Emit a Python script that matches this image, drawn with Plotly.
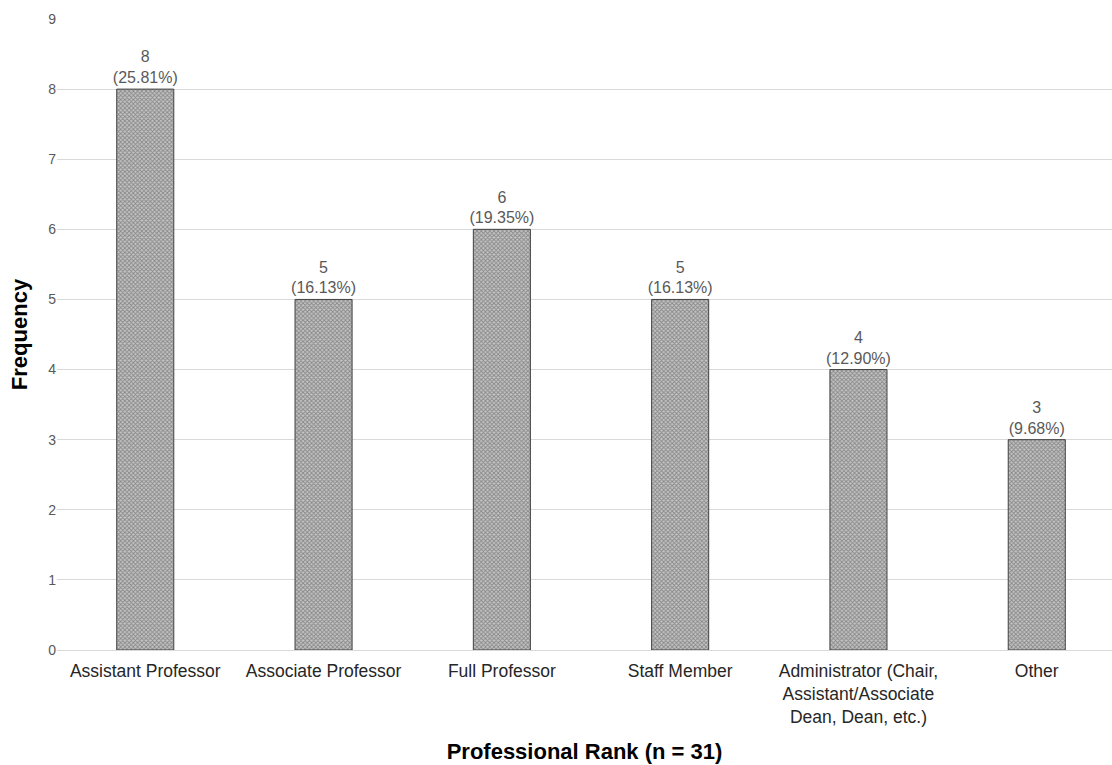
import plotly.graph_objects as go

categories = [
    "Assistant Professor",
    "Associate Professor",
    "Full Professor",
    "Staff Member",
    "Administrator (Chair,<br>Assistant/Associate<br>Dean, Dean, etc.)",
    "Other",
]
counts = [8, 5, 6, 5, 4, 3]
percents = ["25.81%", "16.13%", "19.35%", "16.13%", "12.90%", "9.68%"]
y_ticks = [0, 1, 2, 3, 4, 5, 6, 7, 8, 9]

labels = [f"{c}<br>({p})" for c, p in zip(counts, percents)]

fig = go.Figure(
    go.Bar(
        x=list(range(len(categories))),
        y=counts,
        width=0.32,
        text=labels,
        textposition="outside",
        constraintext="none",
        cliponaxis=False,
        textfont=dict(family="Liberation Sans, Arial", size=16, color="#595959"),
        marker=dict(
            color="#9a9a9a",
            line=dict(color="#404040", width=1),
            pattern=dict(shape="x", fgcolor="#4a4a4a", bgcolor="#c4c4c4", size=3, solidity=0.5),
        ),
    )
)

fig.update_layout(
    width=1112,
    height=765,
    margin=dict(l=57, r=0, t=19, b=115),
    plot_bgcolor="white",
    paper_bgcolor="white",
    showlegend=False,
    font=dict(family="Liberation Sans, Arial", size=14, color="#595959"),
    xaxis=dict(
        range=[-0.495, 5.422],
        tickvals=list(range(len(categories))),
        ticktext=categories,
        tickfont=dict(size=17.5, color="#262626"),
        ticklabelstandoff=5,
        showgrid=False,
        showline=True,
        linecolor="#d9d9d9",
        ticks="",
        title=dict(
            text="<b>Professional Rank (n = 31)</b>",
            font=dict(size=22, color="#000000"),
            standoff=18,
        ),
    ),
    yaxis=dict(
        range=[0, 9],
        tickvals=y_ticks,
        tickfont=dict(size=14, color="#595959"),
        showgrid=True,
        gridcolor="#d9d9d9",
        zeroline=False,
        ticks="",
        ticklen=0,
        title=dict(
            text="<b>Frequency</b>",
            font=dict(size=22, color="#000000"),
            standoff=14,
        ),
    ),
)

fig.write_html("out.html")
